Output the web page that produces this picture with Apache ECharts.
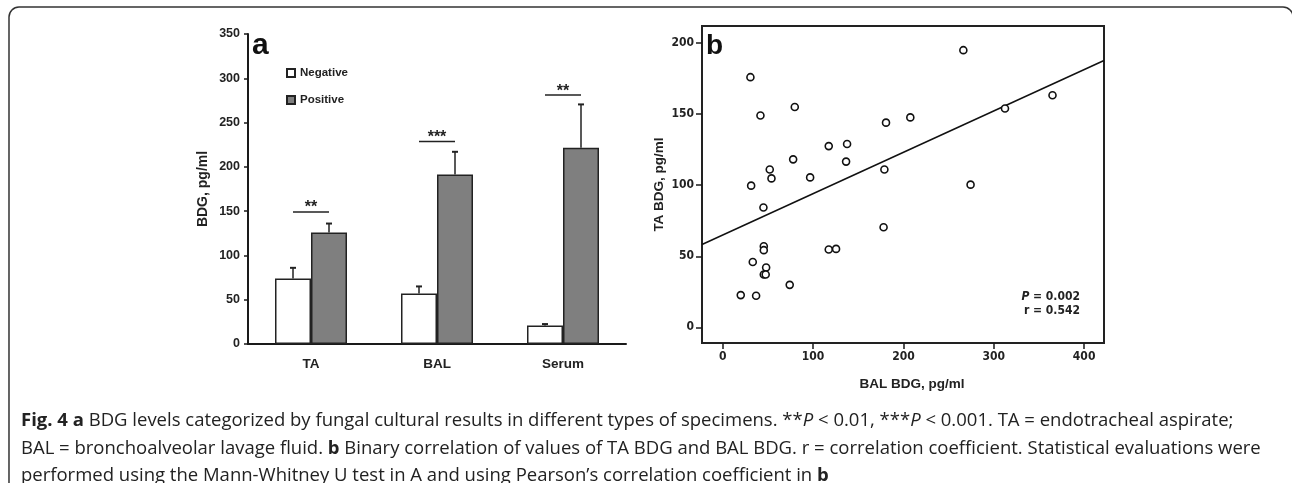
<!DOCTYPE html>
<html><head><meta charset="utf-8">
<script src="https://cdn.jsdelivr.net/npm/echarts@6/dist/echarts.min.js"></script>
<style>html,body{margin:0;padding:0;background:#fff}#c{width:1292px;height:483px}</style>
</head><body><div id="c"></div>
<script>
// ---------- Panel a data ----------
const categories = ['TA', 'BAL', 'Serum'];
const seriesNames = ['Negative', 'Positive'];
const negativeMean = [74, 57, 21];
const negativeErrTop = [86, 65, 22.5];
const positiveMean = [126, 191.5, 221.5];
const positiveErrTop = [136, 217, 270.5];
const sigLevel = [149, 228.5, 281];
const sigLabel = ['**', '***', '**'];
// ---------- Panel b data ----------
const balBDG = [30.6, 41.7, 79.7, 180.7, 207.6, 117.3, 137.6, 136.5, 77.9, 52, 53.9, 96.7, 31.4, 178.9, 45,
  178, 45.4, 45.4, 33.2, 48, 45.4, 47.5, 117.3, 125.4, 74.1, 19.9, 36.9, 266.3, 312.4, 365, 274.3];
const taBDG = [176, 149, 155, 144, 147.7, 127.5, 129, 116.6, 118.2, 111, 104.8, 105.5, 99.7, 111, 84.3,
  70.4, 57.1, 54.3, 46, 42.1, 37.2, 37.2, 54.8, 55.2, 29.9, 22.7, 22.2, 195, 154, 163.3, 100.4];
const regLineX = [-23, 422];
const regLineY = [58.3, 187.7];
const xTicksB = [0, 100, 200, 300, 400];
const yTicksB = [0, 50, 100, 150, 200];
const statText = ['P = 0.002', 'r = 0.542'];

const BAR_W = 36;
const AX = '#1a1a1a';
const ARIAL = '"Liberation Sans", Arial, sans-serif';
const NARROW = '"Liberation Sans Narrow", "DejaVu Sans Condensed", "Liberation Sans", sans-serif';
const CAP = '"Open Sans", "Noto Sans", sans-serif';
const CAP_SIZE = 18.5;

const chart = echarts.init(document.getElementById('c'), null, {renderer: 'canvas'});

const errData = [];
categories.forEach((c, i) => {
  errData.push([i, negativeMean[i], negativeErrTop[i], -1]);
  errData.push([i, positiveMean[i], positiveErrTop[i], 1]);
});
const sigData = categories.map((c, i) => [i, sigLevel[i], i]);

const capRich = {
  b: {fontFamily: CAP, fontSize: CAP_SIZE, fontWeight: 'bold', color: '#222'},
  i: {fontFamily: CAP, fontSize: CAP_SIZE, fontStyle: 'italic', color: '#222'}
};
function capText(txt, y) {
  return {type: 'text', left: 21, top: y, style: {text: txt, fontFamily: CAP, fontSize: CAP_SIZE, fill: '#222', rich: capRich}};
}

const option = {
  backgroundColor: '#fff',
  animation: false,
  grid: [
    {left: 248, top: 34, width: 378, height: 310},
    {left: 702, top: 26, width: 402, height: 317, show: true, borderColor: '#222', borderWidth: 2, backgroundColor: 'transparent'}
  ],
  legend: {
    left: 281, top: 62, orient: 'vertical', itemWidth: 8, itemHeight: 8, itemGap: 15, icon: 'rect',
    textStyle: {fontFamily: ARIAL, fontWeight: 'bold', fontSize: 11.5, color: '#222'},
    data: seriesNames
  },
  xAxis: [
    {
      gridIndex: 0, type: 'category', data: categories,
      axisLine: {lineStyle: {color: AX, width: 2}},
      axisTick: {length: 5, lineStyle: {color: AX, width: 2}},
      axisLabel: {fontFamily: ARIAL, fontWeight: 'bold', fontSize: 13.5, color: '#222', margin: 13}
    },
    {
      gridIndex: 1, type: 'value', min: -23, max: 422,
      axisLine: {show: false, onZero: false}, splitLine: {show: false},
      axisTick: {show: true, length: 6, customValues: xTicksB, lineStyle: {color: AX, width: 1.5}},
      axisLabel: {customValues: xTicksB, fontFamily: NARROW, fontWeight: 'bold', fontSize: 12, color: '#222', margin: 8},
      name: 'BAL BDG, pg/ml', nameLocation: 'middle', nameGap: 34,
      nameTextStyle: {fontFamily: ARIAL, fontWeight: 'bold', fontSize: 13.5, color: '#222', padding: [0, 0, 0, 18]}
    }
  ],
  yAxis: [
    {
      gridIndex: 0, type: 'value', min: 0, max: 350, interval: 50,
      axisLine: {show: true, lineStyle: {color: AX, width: 2}},
      axisTick: {show: true, length: 4, lineStyle: {color: AX, width: 1.5}},
      splitLine: {show: false},
      axisLabel: {fontFamily: ARIAL, fontWeight: 'bold', fontSize: 12.5, color: '#222', margin: 8},
      name: 'BDG, pg/ml', nameLocation: 'middle', nameGap: 38, nameRotate: 90,
      nameTextStyle: {fontFamily: ARIAL, fontWeight: 'bold', fontSize: 14, color: '#222'}
    },
    {
      gridIndex: 1, type: 'value', min: -11, max: 212,
      axisLine: {show: false, onZero: false}, splitLine: {show: false},
      axisTick: {show: true, length: 6, customValues: yTicksB, lineStyle: {color: AX, width: 1.5}},
      axisLabel: {customValues: yTicksB, fontFamily: NARROW, fontWeight: 'bold', fontSize: 12, color: '#222', margin: 8},
      name: 'TA BDG, pg/ml', nameLocation: 'middle', nameGap: 36, nameRotate: 90,
      nameTextStyle: {fontFamily: ARIAL, fontWeight: 'bold', fontSize: 13.5, color: '#222'}
    }
  ],
  series: [
    {
      name: 'Negative', type: 'bar', xAxisIndex: 0, yAxisIndex: 0, data: negativeMean,
      barWidth: BAR_W, barGap: '0%',
      itemStyle: {color: '#ffffff', borderColor: '#222', borderWidth: 1.5}
    },
    {
      name: 'Positive', type: 'bar', xAxisIndex: 0, yAxisIndex: 0, data: positiveMean,
      barWidth: BAR_W, barGap: '0%',
      itemStyle: {color: '#7f7f7f', borderColor: '#222', borderWidth: 1.5}
    },
    {
      type: 'custom', xAxisIndex: 0, yAxisIndex: 0, data: errData, z: 5, silent: true,
      renderItem: function (params, api) {
        const ci = api.value(0);
        const base = api.coord([ci, api.value(1)]);
        const top = api.coord([ci, api.value(2)]);
        const x = base[0] + api.value(3) * BAR_W / 2;
        return {type: 'group', children: [
          {type: 'line', shape: {x1: x, y1: base[1], x2: x, y2: top[1]}, style: {stroke: '#222', lineWidth: 1.5}},
          {type: 'line', shape: {x1: x - 3, y1: top[1], x2: x + 3, y2: top[1]}, style: {stroke: '#222', lineWidth: 2}}
        ]};
      }
    },
    {
      type: 'custom', xAxisIndex: 0, yAxisIndex: 0, data: sigData, z: 5, silent: true,
      renderItem: function (params, api) {
        const p = api.coord([api.value(0), api.value(1)]);
        return {type: 'group', children: [
          {type: 'line', shape: {x1: p[0] - BAR_W / 2, y1: p[1], x2: p[0] + BAR_W / 2, y2: p[1]}, style: {stroke: '#222', lineWidth: 1.5}},
          {type: 'text', style: {text: sigLabel[api.value(2)], x: p[0], y: p[1] - 4, align: 'center', verticalAlign: 'middle',
            font: 'bold 16px "Liberation Sans", Arial, sans-serif', fill: '#222'}}
        ]};
      }
    },
    {
      type: 'line', xAxisIndex: 1, yAxisIndex: 1, data: regLineX.map((x, i) => [x, regLineY[i]]),
      symbol: 'none', lineStyle: {color: '#111', width: 1.5}, z: 2, silent: true
    },
    {
      type: 'scatter', xAxisIndex: 1, yAxisIndex: 1, data: balBDG.map((x, i) => [x, taBDG[i]]),
      symbol: 'circle', symbolSize: 7,
      itemStyle: {color: '#fff', borderColor: '#111', borderWidth: 1.6, opacity: 1}, z: 3
    }
  ],
  graphic: [
    {type: 'rect', shape: {x: 9, y: 7, width: 1284, height: 520, r: 10},
      style: {fill: 'none', stroke: '#333', lineWidth: 1.5}, silent: true},
    {type: 'text', left: 252, top: 31, style: {text: 'a', font: 'bold 30px "Liberation Sans", Arial, sans-serif', fill: '#111'}},
    {type: 'text', left: 706, top: 32, style: {text: 'b', font: 'bold 28px "Liberation Sans", Arial, sans-serif', fill: '#111'}},
    {type: 'text', right: 1292 - 1080, top: 291, style: {text: '{pi|P} = 0.002',
      font: 'bold 12px ' + NARROW, fill: '#222',
      rich: {pi: {fontFamily: NARROW, fontSize: 12, fontWeight: 'bold', fontStyle: 'italic', fill: '#222'}}}},
    {type: 'text', right: 1292 - 1080, top: 305, style: {text: statText[1], font: 'bold 12px ' + NARROW, fill: '#222'}},
    capText('{b|Fig. 4 a} BDG levels categorized by fungal cultural results in different types of specimens. **{i|P} < 0.01, ***{i|P} < 0.001. TA = endotracheal aspirate;', 411),
    capText('BAL = bronchoalveolar lavage fluid. {b|b} Binary correlation of values of TA BDG and BAL BDG. r = correlation coefficient. Statistical evaluations were', 439),
    capText('performed using the Mann-Whitney U test in A and using Pearson\u2019s correlation coefficient in {b|b}', 466)
  ]
};
chart.setOption(option);
</script>
</body></html>
